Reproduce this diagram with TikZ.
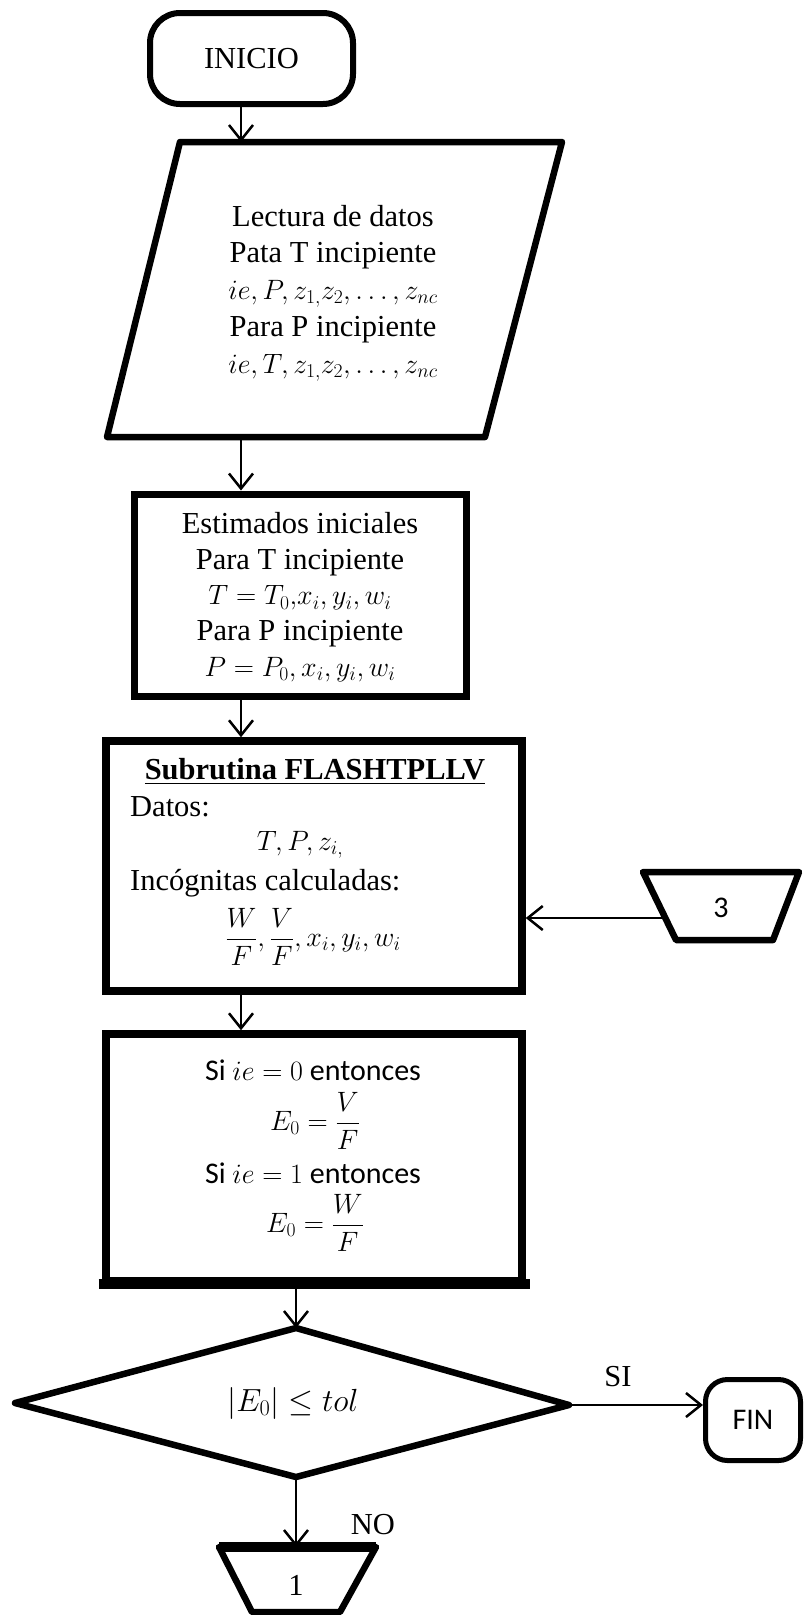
\RequirePackage{fix-cm}
\documentclass[tikz,border=0pt]{standalone}
\usepackage{amsmath}
\usepackage{fontspec}
\setmainfont{Liberation Serif}
\newfontfamily\calibri{Carlito}
\usetikzlibrary{arrows.meta}
% formulas in the boxes
\newcommand\bigmath[1]{{\fontsize{28}{36.75}\selectfont$#1$}}
\begin{document}
\begin{tikzpicture}[x=1pt,y=-1pt,
  shapeline/.style={line width=6.5pt, line join=round},
  boxnode/.style={draw, line width=7pt, inner sep=0pt},
  arr/.style={line width=2.5pt, -{Straight Barb[length=15pt,width=24pt,line width=2.5pt]}},
  txt/.style={font=\fontsize{30.5}{36.75}\selectfont, align=center, inner sep=0pt},
  sanstxt/.style={font=\calibri\fontsize{30}{36}\selectfont, align=center, inner sep=0pt},
]
\useasboundingbox (0,0) rectangle (807,1615);
\fill[white] (0,0) rectangle (807,1615);

% column of the main vertical arrows
\coordinate (colA) at (241,0);
\coordinate (colC) at (296,0);

% start terminal
\node[draw, line width=6pt, rounded corners=30pt, minimum width=203pt,
      minimum height=91pt, txt] (inicio) at (251.5,58.5) {INICIO};

% data input (parallelogram)
\coordinate (pA) at (180,142);
\coordinate (pB) at (562,142);
\coordinate (pC) at (485,437);
\coordinate (pD) at (107,437);
\draw[shapeline] (pA) -- (pB) -- (pC) -- (pD) -- cycle;
\node[txt] (lectura) at (333,293)
  {Lectura de datos\\Pata T incipiente\\\bigmath{ie, P, z_{1,}z_2, \ldots, z_{nc}}\\
   Para P incipiente\\\bigmath{ie, T, z_{1,}z_2, \ldots, z_{nc}}};

% initial estimates
\node[boxnode, minimum width=332pt, minimum height=202pt] (est) at (300,595) {};
\node[txt, font=\fontsize{30.5}{35.75}\selectfont] (esttxt) at (300,597)
  {Estimados iniciales\\Para T incipiente\\\bigmath{T = T_0{,}x_i, y_i, w_i}\\
   Para P incipiente\\\bigmath{P = P_0, x_i, y_i, w_i}};

% flash subroutine
\node[boxnode, line width=7.5pt, minimum width=416pt, minimum height=250pt] (flash) at (314,866) {};
\node[txt] (ftitle) at (315,772) {\underline{\textbf{Subrutina FLASHTPLLV}}};
\node[txt, anchor=west] (fdatos) at (130,807) {Datos:};
\node[txt] (ftpz) at (300,845) {\bigmath{T, P, z_{i,}}};
\node[txt, anchor=west] (finc) at (130,883) {Incógnitas calculadas:};
\node[txt] (ffrac) at (313,937) {\bigmath{\dfrac{W}{F},\dfrac{V}{F},x_i,y_i,w_i}};

% connector 3
\coordinate (tA) at (643,872);
\coordinate (tB) at (799,872);
\coordinate (tC) at (773,940);
\coordinate (tD) at (676,940);
\draw[shapeline] (tA) -- (tB) -- (tC) -- (tD) -- cycle;
\node[sanstxt] (three) at (721,908) {3};
\coordinate (t3in) at (665,918);

% error function
\node[boxnode, line width=7.5pt, minimum width=416pt, minimum height=247pt] (si) at (314,1157.5) {};
\draw[line width=10pt] ([xshift=-3.75pt,yshift=1pt]si.south west) -- ([xshift=3.75pt,yshift=1pt]si.south east);
\node[sanstxt] (si1) at (313,1070) {Si \bigmath{ie = 0} entonces};
\node[txt] (si2) at (315,1121) {\bigmath{E_0 = \dfrac{V}{F}}};
\node[sanstxt] (si3) at (313,1173) {Si \bigmath{ie = 1} entonces};
\node[txt] (si4) at (315,1223) {\bigmath{E_0 = \dfrac{W}{F}}};

% decision
\coordinate (dtop) at (296,1328);
\coordinate (dright) at (569,1405);
\coordinate (dbottom) at (296,1477);
\coordinate (dleft) at (15,1403);
\draw[shapeline] (dtop) -- (dright) -- (dbottom) -- (dleft) -- cycle;
\node[txt, font=\fontsize{32}{40}\selectfont] (cond) at (293,1403) {$|E_0| \le tol$};

% end terminal
\node[draw, line width=5pt, rounded corners=22pt, minimum width=95pt,
      minimum height=81pt, sanstxt] (fin) at (753,1420) {FIN};

% connector 1
\coordinate (uA) at (219,1547);
\coordinate (uB) at (376,1547);
\coordinate (uC) at (340,1612);
\coordinate (uD) at (252,1612);
\draw[shapeline] (uA) -- (uB) -- (uC) -- (uD) -- cycle;
\draw[line width=10pt] (uA) -- (uB);
\node[txt] (one) at (296,1585) {1};

% labels
\node[txt] (lblsi) at (618,1377) {SI};
\node[txt] (lblno) at (373,1525) {NO};

% connectors
\draw[arr] (inicio.south -| colA) -- (pA -| colA);
\draw[arr] (pD -| colA) -- (est.north -| colA);
\draw[arr] (est.south -| colA) -- (flash.north -| colA);
\draw[arr] (t3in) -- (t3in -| flash.east);
\draw[arr] (flash.south -| colA) -- (si.north -| colA);
\draw[arr] (si.south -| colC) -- (dtop);
\draw[arr] (dright) -- (dright -| fin.west);
\draw[arr] (dbottom) -- (dbottom |- uA);
\end{tikzpicture}
\end{document}
